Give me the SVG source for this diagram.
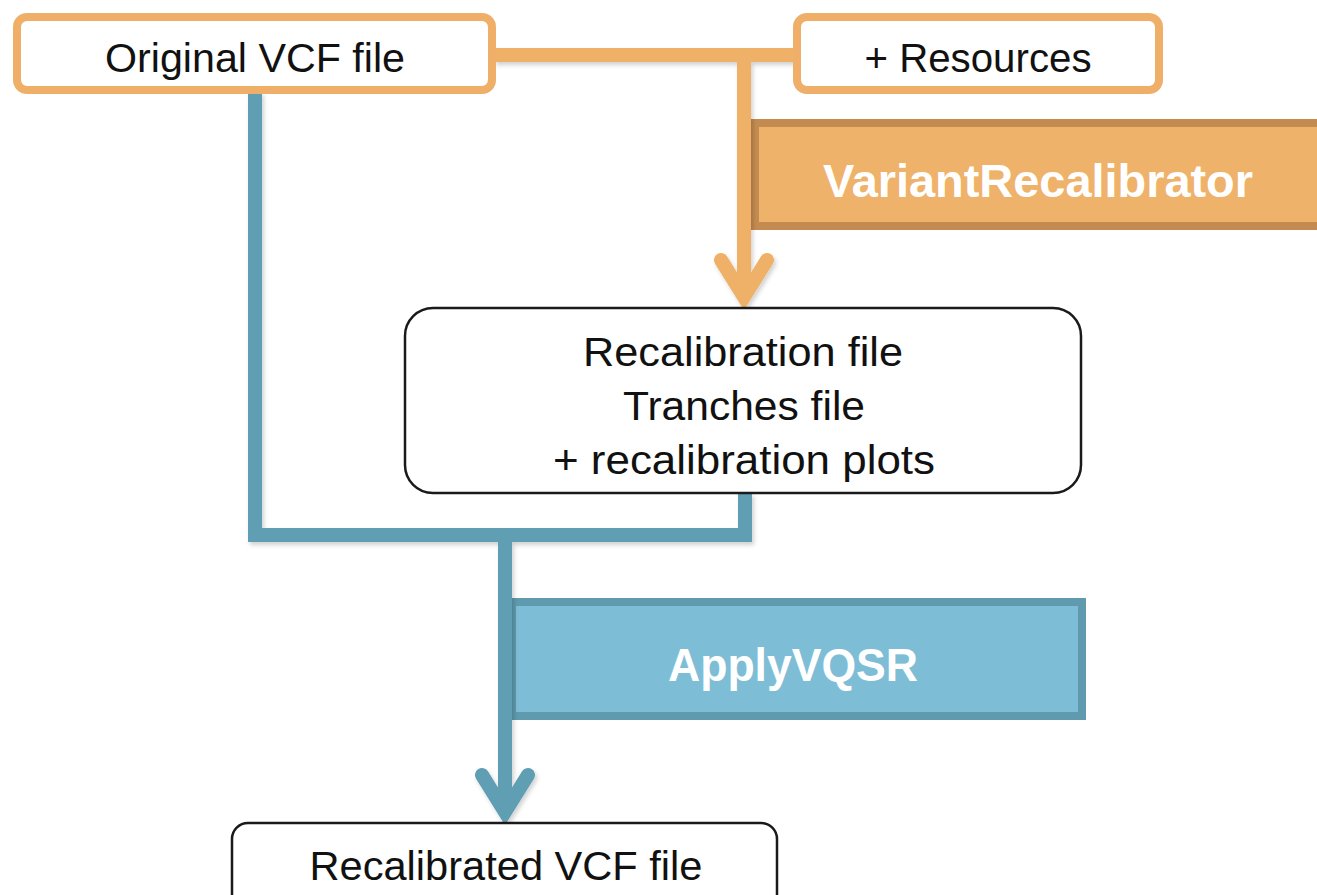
<svg xmlns="http://www.w3.org/2000/svg" width="1317" height="895" viewBox="0 0 1317 895">
  <style>
    .lbl { font-family: "Liberation Sans", Arial, sans-serif; font-size: 41px; fill: #111111; text-anchor: middle; }
    .tool { font-family: "Liberation Sans", Arial, sans-serif; font-size: 46px; font-weight: bold; fill: #ffffff; text-anchor: middle; }
    .in-box { fill: #ffffff; stroke: #EFAF68; stroke-width: 8; }
    .out-box { fill: #ffffff; stroke: #1a1a1a; stroke-width: 2.5; }
    .orange { fill: none; stroke: #EFB067; stroke-width: 14; }
    .blue { fill: none; stroke: #5E9EB3; stroke-width: 14; }
  </style>
  <defs>
    <filter id="shadow" x="-10%" y="-10%" width="120%" height="120%">
      <feDropShadow dx="2" dy="3" stdDeviation="2" flood-color="#000000" flood-opacity="0.18"/>
    </filter>
  </defs>
  <rect width="1317" height="895" fill="#ffffff"/>

  <!-- tool bars -->
  <g id="variant-recalibrator">
    <rect x="755" y="123" width="600" height="103" fill="#EFB26B" stroke="#C48B50" stroke-width="8"/>
    <text class="tool" x="1038" y="197" textLength="430" lengthAdjust="spacingAndGlyphs">VariantRecalibrator</text>
  </g>
  <g id="apply-vqsr">
    <rect x="512" y="602" width="570" height="114" fill="#7EBDD6" stroke="#5F9AAE" stroke-width="8"/>
    <text class="tool" x="793" y="681" textLength="250" lengthAdjust="spacingAndGlyphs">ApplyVQSR</text>
  </g>

  <!-- connectors -->
  <g id="connectors" filter="url(#shadow)">
    <path class="orange" d="M494 55 H795"/>
    <path class="orange" d="M744 55 V296"/>
    <polyline class="orange" points="721,260 744,297 767,260" stroke-linecap="round" stroke-linejoin="miter"/>
    <path class="blue" d="M255 92 V535 H745 V493" stroke-linejoin="miter"/>
    <path class="blue" d="M505 535 V811"/>
    <polyline class="blue" points="482,775 505,812 528,775" stroke-linecap="round" stroke-linejoin="miter"/>
  </g>

  <!-- data nodes -->
  <g id="original-vcf">
    <rect class="in-box" x="17" y="17" width="475" height="73" rx="10"/>
    <text class="lbl" x="255" y="72" textLength="300" lengthAdjust="spacingAndGlyphs">Original VCF file</text>
  </g>
  <g id="resources">
    <rect class="in-box" x="797" y="17" width="362" height="73" rx="10"/>
    <text class="lbl" x="978" y="72" textLength="227" lengthAdjust="spacingAndGlyphs">+ Resources</text>
  </g>
  <g id="recalibration-output">
    <rect class="out-box" x="405" y="308" width="676" height="185" rx="28"/>
    <text class="lbl" x="743" y="366" textLength="320" lengthAdjust="spacingAndGlyphs">Recalibration file</text>
    <text class="lbl" x="744" y="420" textLength="242" lengthAdjust="spacingAndGlyphs">Tranches file</text>
    <text class="lbl" x="744" y="474" textLength="382" lengthAdjust="spacingAndGlyphs">+ recalibration plots</text>
  </g>
  <g id="recalibrated-vcf">
    <rect class="out-box" x="232" y="823" width="545" height="100" rx="16"/>
    <text class="lbl" x="506" y="880" textLength="393" lengthAdjust="spacingAndGlyphs">Recalibrated VCF file</text>
  </g>
</svg>
